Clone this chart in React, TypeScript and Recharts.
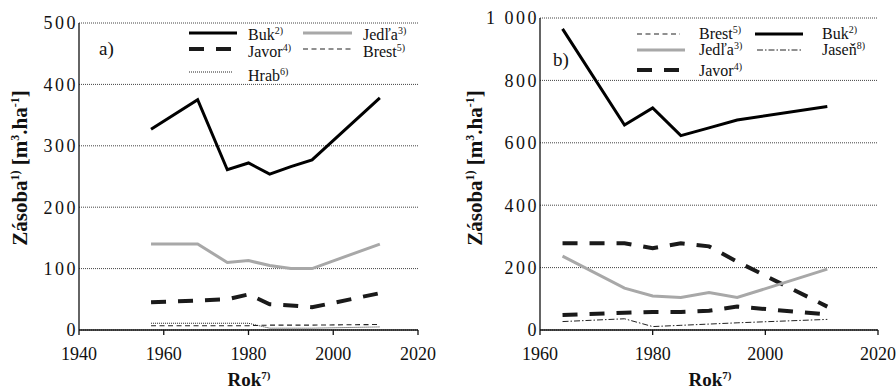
import React from "react";
import { LineChart, Line, XAxis, YAxis, CartesianGrid, Legend, Label } from "recharts";

// ---------- data: panel a) ----------
const yearsA = [1957, 1968, 1975, 1980, 1985, 1990, 1995, 2011];
const bukA = [327, 375, 261, 272, 254, 266, 277, 378];
const jedlaA = [140, 140, 110, 113, 105, 100, 100, 140];
const javorA = [45, 48, 50, 58, 42, 40, 37, 60];
const brestA = [7, 7, 7, 7, 8, 8, 8, 9];
const hrabA = [11, 11, 11, 11, 3, 3, 3, 5];
const xTicksA = [1940, 1960, 1980, 2000, 2020];
const yTicksA = [0, 100, 200, 300, 400, 500];

// ---------- data: panel b) ----------
const yearsB = [1964, 1975, 1980, 1985, 1990, 1995, 2011];
const bukB = [965, 657, 712, 623, 648, 673, 716];
const jedlaB = [237, 134, 109, 104, 120, 104, 195];
const javorB = [278, 278, 262, 278, 268, 219, 75];
const brestB = [48, 55, 58, 58, 62, 75, 50];
const jasenB = [27, 36, 11, 15, 19, 23, 34];
const xTicksB = [1960, 1980, 2000, 2020];
const yTicksB = [0, 200, 400, 600, 800, 1000];

const rowsA = yearsA.map((y, i) => ({ year: y, buk: bukA[i], jedla: jedlaA[i], javor: javorA[i], brest: brestA[i], hrab: hrabA[i] }));
const rowsB = yearsB.map((y, i) => ({ year: y, buk: bukB[i], jedla: jedlaB[i], javor: javorB[i], brest: brestB[i], jasen: jasenB[i] }));

const FONT = "Liberation Serif, Times New Roman, Tinos, DejaVu Serif, serif";

type Sty = { stroke: string; strokeWidth: number; strokeDasharray?: string };
const STY: Record<string, Sty> = {
  buk: { stroke: "#000", strokeWidth: 3 },
  jedla: { stroke: "#a8a8a8", strokeWidth: 3 },
  javor: { stroke: "#1a1a1a", strokeWidth: 4, strokeDasharray: "15 12" },
  brest: { stroke: "#222", strokeWidth: 1.1, strokeDasharray: "5 3.5" },
  hrab: { stroke: "#222", strokeWidth: 1, strokeDasharray: "1 1" },
  jasen: { stroke: "#222", strokeWidth: 1, strokeDasharray: "6 2 1.5 2" },
};
const STY_B_BREST: Sty = { stroke: "#1a1a1a", strokeWidth: 4, strokeDasharray: "15 12" };

const NAMES: Record<string, [string, string]> = {
  buk: ["Buk", "2)"],
  jedla: ["Jedľa", "3)"],
  javor: ["Javor", "4)"],
  brest: ["Brest", "5)"],
  hrab: ["Hrab", "6)"],
  jasen: ["Jaseň", "8)"],
};

// legend layout [key, x1, x2, lineY, textX, baseline]
const legendA: [string, number, number, number, number, number][] = [
  ["buk", 189, 237, 33, 248, 40],
  ["jedla", 303, 352, 33, 363, 40],
  ["javor", 189, 237, 49, 248, 57],
  ["brest", 303, 352, 49, 363, 57],
  ["hrab", 189, 233, 72, 248, 81],
];
const legendB: [string, number, number, number, number, number][] = [
  ["brest", 187, 230, 34, 249, 39],
  ["buk", 305, 353, 34, 372, 39],
  ["jedla", 187, 235, 50, 249, 55],
  ["jasen", 307, 353, 50, 372, 55],
  ["javor", 187, 235, 70, 249, 76],
];

// renders text parts; sup parts raised by d px and drawn smaller
function parts(list: [string, boolean][], d: number, supSize: number) {
  let raised = false;
  return list.map(([t, sup], i) => {
    let dy = 0;
    if (sup && !raised) { dy = -d; raised = true; }
    else if (!sup && raised) { dy = d; raised = false; }
    return (
      <tspan key={i} dy={dy} fontSize={sup ? supSize : undefined}>{t}</tspan>
    );
  });
}

function LegendSvg({ items, w, tag, tagX, tagY }: { items: typeof legendA; w: number; tag: string; tagX: number; tagY: number }) {
  return (
    <svg width={w} height={100} style={{ display: "block", fontFamily: FONT }}>
      <text x={tagX} y={tagY} fontFamily={FONT} fontSize={19} fill="#111">{tag}</text>
      {items.map(([k, x1, x2, ly, tx, by]) => {
        const s = STY[k];
        return (
          <g key={k}>
            <line x1={x1} x2={x2} y1={ly} y2={ly} stroke={s.stroke} strokeWidth={s.strokeWidth} strokeDasharray={s.strokeDasharray} />
            <text x={tx} y={by} fontFamily={FONT} fontSize={16} fill="#111">
              {parts([[NAMES[k][0], false], [NAMES[k][1], true]], 6, 10)}
            </text>
          </g>
        );
      })}
    </svg>
  );
}

function YTitle({ x, y }: { x: number; y: number }) {
  return (
    <text x={x} y={y} transform={`rotate(-90 ${x} ${y})`} textAnchor="middle" fontFamily={FONT} fontWeight="bold" fontSize={21} fill="#111" style={{ fontFamily: FONT }}>
      {parts([["Zásoba", false], ["1)", true], [" [m", false], ["3", true], [".ha", false], ["-1", true], ["]", false]], 8, 12)}
    </text>
  );
}

function XTitle({ x, y }: { x: number; y: number }) {
  return (
    <text x={x} y={y} textAnchor="middle" fontFamily={FONT} fontWeight="bold" fontSize={19} fill="#111" style={{ fontFamily: FONT }}>
      {parts([["Rok", false], ["7)", true]], 7, 11)}
    </text>
  );
}

const yTick = { fontFamily: FONT, fontSize: 18, fill: "#111", letterSpacing: 2.5, style: { fontFamily: FONT } };
const xTick = { fontFamily: FONT, fontSize: 18, fill: "#111", style: { fontFamily: FONT } };

export default function App() {
  return (
    <div style={{ position: "absolute", left: 0, top: 0, width: 896, height: 391, background: "#fff", fontFamily: FONT }}>
      <div style={{ position: "absolute", left: 0, top: 0 }}>
        <LineChart width={450} height={391} data={rowsA} margin={{ top: 23, right: 32, bottom: 31, left: 19 }} style={{ fontFamily: FONT }}>
          <CartesianGrid vertical={false} stroke="#444" strokeDasharray="1 1" />
          <XAxis dataKey="year" type="number" domain={[1940, 2020]} ticks={xTicksA} tick={xTick} tickSize={5} tickMargin={12} height={30} stroke="#111" strokeWidth={1.3} interval={0}>
            <Label content={() => <XTitle x={249} y={386} />} />
          </XAxis>
          <YAxis type="number" domain={[0, 500]} ticks={yTicksA} tick={yTick} tickLine={false} tickSize={0} tickMargin={1} width={60} stroke="#111" strokeWidth={1.3} interval={0}>
            <Label content={() => <YTitle x={27} y={168} />} />
          </YAxis>
          <Legend layout="vertical" align="center" verticalAlign="middle" wrapperStyle={{ position: "absolute", left: 0, top: 0, width: 450, height: 100 }}
            content={() => <LegendSvg items={legendA} w={450} tag="a)" tagX={99} tagY={55} />} />
          <Line dataKey="hrab" dot={false} isAnimationActive={false} {...STY.hrab} />
          <Line dataKey="brest" dot={false} isAnimationActive={false} {...STY.brest} />
          <Line dataKey="javor" dot={false} isAnimationActive={false} {...STY.javor} />
          <Line dataKey="jedla" dot={false} isAnimationActive={false} {...STY.jedla} />
          <Line dataKey="buk" dot={false} isAnimationActive={false} {...STY.buk} />
        </LineChart>
      </div>
      <div style={{ position: "absolute", left: 450, top: 0 }}>
        <LineChart width={446} height={391} data={rowsB} margin={{ top: 18, right: 18, bottom: 31, left: 30 }} style={{ fontFamily: FONT }}>
          <CartesianGrid vertical={false} stroke="#444" strokeDasharray="1 1" />
          <XAxis dataKey="year" type="number" domain={[1960, 2020]} ticks={xTicksB} tick={xTick} tickSize={5} tickMargin={12} height={30} stroke="#111" strokeWidth={1.3} interval={0}>
            <Label content={() => <XTitle x={260} y={386} />} />
          </XAxis>
          <YAxis type="number" domain={[0, 1000]} ticks={yTicksB} tick={yTick} tickLine={false} tickSize={0} tickMargin={1} width={60} stroke="#111" strokeWidth={1.3} interval={0}
            tickFormatter={(v: number) => (v >= 1000 ? "1 000" : String(v))}>
            <Label content={() => <YTitle x={32} y={168} />} />
          </YAxis>
          <Legend layout="vertical" align="center" verticalAlign="middle" wrapperStyle={{ position: "absolute", left: 0, top: 0, width: 446, height: 100 }}
            content={() => <LegendSvg items={legendB} w={446} tag="b)" tagX={103} tagY={66} />} />
          <Line dataKey="jasen" dot={false} isAnimationActive={false} {...STY.jasen} />
          <Line dataKey="brest" dot={false} isAnimationActive={false} {...STY_B_BREST} />
          <Line dataKey="javor" dot={false} isAnimationActive={false} {...STY.javor} />
          <Line dataKey="jedla" dot={false} isAnimationActive={false} {...STY.jedla} />
          <Line dataKey="buk" dot={false} isAnimationActive={false} {...STY.buk} />
        </LineChart>
      </div>
    </div>
  );
}
